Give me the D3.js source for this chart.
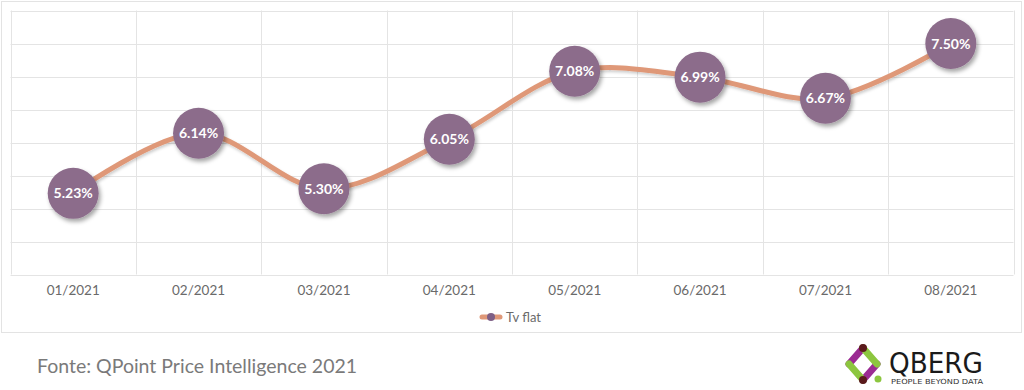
<!DOCTYPE html>
<html>
<head>
<meta charset="utf-8">
<script src="https://cdn.jsdelivr.net/npm/d3@7"></script>
<style>
    body { margin: 0; background: #fff; }
    svg { display: block; font-family: Lato, "Open Sans", sans-serif; }
</style>
</head>
<body>
<div id="chart"></div>
<script>
// data
const months = ["01/2021", "02/2021", "03/2021", "04/2021", "05/2021", "06/2021", "07/2021", "08/2021"];
const tvFlat = [5.23, 6.14, 5.30, 6.05, 7.08, 6.99, 6.67, 7.50];
const yTicks = [4.0, 4.5, 5.0, 5.5, 6.0, 6.5, 7.0, 7.5, 8.0];
const seriesName = "Tv flat";
const sourceText = "Fonte: QPoint Price Intelligence 2021";

const width = 1024;
const height = 390;
const plot = { left: 10.5, right: 1013.5, top: 10.5, bottom: 274.5 };

const svg = d3.select("#chart")
    .append("svg")
    .attr("width", width)
    .attr("height", height);

// drop shadow for the bubbles and line
const defs = svg.append("defs");
const shadow = defs.append("filter")
    .attr("id", "shadow")
    .attr("x", "-30%").attr("y", "-30%")
    .attr("width", "170%").attr("height", "170%");
shadow.append("feDropShadow")
    .attr("dx", 2).attr("dy", 3)
    .attr("stdDeviation", 2)
    .attr("flood-color", "#000")
    .attr("flood-opacity", 0.35);

const lineShadow = defs.append("filter")
    .attr("id", "lineShadow")
    .attr("x", "-10%").attr("y", "-30%")
    .attr("width", "120%").attr("height", "160%");
lineShadow.append("feDropShadow")
    .attr("dx", 1).attr("dy", 2)
    .attr("stdDeviation", 1.5)
    .attr("flood-color", "#000")
    .attr("flood-opacity", 0.2);

// outer frame
svg.append("rect")
    .attr("x", 1.5).attr("y", 1.5)
    .attr("width", 1020).attr("height", 331)
    .attr("fill", "#fff")
    .attr("stroke", "#e3e3e3")
    .attr("stroke-width", 1);

const xScale = d3.scaleBand().domain(months).range([plot.left, plot.right]);
const yScale = d3.scaleLinear().domain([4, 8]).range([plot.bottom, plot.top]);

// grid
const grid = svg.append("g").attr("class", "grid");
grid.selectAll(".hline")
    .data(yTicks)
    .enter()
    .append("line")
    .attr("x1", plot.left).attr("x2", plot.right)
    .attr("y1", d => Math.round(yScale(d)) + 0.5)
    .attr("y2", d => Math.round(yScale(d)) + 0.5)
    .attr("stroke", "#e4e4e4");

const vlines = months.map(m => xScale(m)).concat([plot.right]);
grid.selectAll(".vline")
    .data(vlines)
    .enter()
    .append("line")
    .attr("x1", d => Math.round(d) + 0.5).attr("x2", d => Math.round(d) + 0.5)
    .attr("y1", plot.top).attr("y2", plot.bottom)
    .attr("stroke", "#e4e4e4");

// x axis labels
const xAxis = d3.axisBottom(xScale).tickSize(0).tickPadding(0);
const xAxisGroup = svg.append("g")
    .attr("transform", `translate(0, ${plot.bottom + 11})`)
    .call(xAxis);
xAxisGroup.select(".domain").remove();
xAxisGroup.selectAll("text")
    .attr("font-family", "Lato, sans-serif")
    .attr("font-size", 13.5)
    .attr("fill", "#6a6a6a");

// series line
const points = months.map((m, i) => ({ x: xScale(m) + xScale.bandwidth() / 2, y: yScale(tvFlat[i]), v: tvFlat[i] }));
const line = d3.line()
    .x(d => d.x)
    .y(d => d.y)
    .curve(d3.curveCatmullRom.alpha(0.5));

svg.append("path")
    .datum(points)
    .attr("d", line)
    .attr("fill", "none")
    .attr("stroke", "#df9878")
    .attr("stroke-width", 5)
    .attr("stroke-linecap", "round")
    .attr("filter", "url(#lineShadow)");

// bubbles
const bubbles = svg.selectAll(".bubble")
    .data(points)
    .enter()
    .append("g")
    .attr("transform", d => `translate(${d.x}, ${d.y})`);

bubbles.append("circle")
    .attr("r", 25.5)
    .attr("fill", "#8c6c8b")
    .attr("filter", "url(#shadow)");

bubbles.append("text")
    .attr("text-anchor", "middle")
    .attr("dy", "0.36em")
    .attr("font-family", "Lato, sans-serif")
    .attr("font-weight", "bold")
    .attr("font-size", 14)
    .attr("fill", "#fff")
    .text(d => d.v.toFixed(2) + "%");

// legend
const legend = svg.append("g").attr("transform", "translate(491, 317)");
legend.append("line")
    .attr("x1", -9).attr("x2", 9)
    .attr("stroke", "#df9878")
    .attr("stroke-width", 5)
    .attr("stroke-linecap", "round");
legend.append("circle")
    .attr("r", 4)
    .attr("fill", "#7e5f86");
legend.append("text")
    .attr("x", 15)
    .attr("dy", "0.35em")
    .attr("font-family", "Lato, sans-serif")
    .attr("font-size", 13)
    .attr("fill", "#6a6a6a")
    .text(seriesName);

// source note
svg.append("text")
    .attr("x", 37)
    .attr("y", 373)
    .attr("font-family", "Lato, sans-serif")
    .attr("font-size", 19.5)
    .attr("fill", "#7a7a7a")
    .text(sourceText);

// QBERG logo
const logo = svg.append("g").attr("transform", "translate(863, 364)");
const pTop = [0, -16], pLeft = [-14, 0], pRight = [14, 0], pBottom = [0, 16];
const bar = (a, b, c) => logo.append("line")
    .attr("x1", a[0]).attr("y1", a[1])
    .attr("x2", b[0]).attr("y2", b[1])
    .attr("stroke", c)
    .attr("stroke-width", 7)
    .attr("stroke-linecap", "round");
bar(pLeft, pTop, "#9b2b93");
bar(pBottom, pRight, "#9b2b93");
bar(pTop, pRight, "#8cc63f");
bar(pLeft, pBottom, "#8cc63f");
logo.append("circle").attr("cx", 0).attr("cy", -16).attr("r", 4).attr("fill", "#5a1a1c");
logo.append("circle").attr("cx", 0).attr("cy", 16).attr("r", 4).attr("fill", "#5a1a1c");
logo.append("circle").attr("cx", 15).attr("cy", 15).attr("r", 3.5).attr("fill", "#8cc63f");

svg.append("text")
    .attr("x", 889)
    .attr("y", 373)
    .attr("font-family", "'DejaVu Sans Condensed', 'DejaVu Sans', sans-serif")
    .attr("font-size", 28)
    .attr("textLength", 94)
    .attr("lengthAdjust", "spacingAndGlyphs")
    .attr("fill", "#1a1a1a")
    .text("QBERG");
svg.append("text")
    .attr("x", 891)
    .attr("y", 384)
    .attr("font-family", "'DejaVu Sans', sans-serif")
    .attr("font-size", 7)
    .attr("textLength", 92)
    .attr("lengthAdjust", "spacingAndGlyphs")
    .attr("fill", "#333")
    .text("PEOPLE BEYOND DATA");
</script>
</body>
</html>
